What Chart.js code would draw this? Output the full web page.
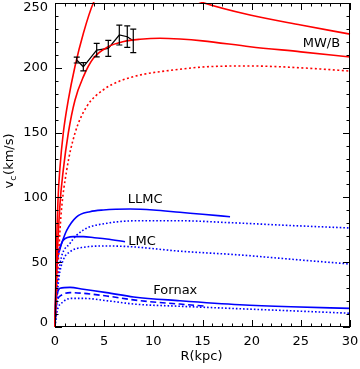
<!DOCTYPE html>
<html>
<head>
<meta charset="utf-8">
<script src="https://cdn.jsdelivr.net/npm/chart.js@4.4.0/dist/chart.umd.min.js"></script>
<style>
  html, body { margin: 0; padding: 0; background: #fff; }
  #wrap { width: 360px; height: 369px; }
</style>
</head>
<body>
<div id="wrap"><canvas id="rc" width="360" height="369"></canvas></div>
<script>
const xTicks = [0, 5, 10, 15, 20, 25, 30];
const yTicks = [0, 50, 100, 150, 200, 250];

// MW/B curves (R in kpc, v in km/s)
const mwTopR = [0, 0.1, 0.3, 0.51, 0.84, 1.35, 2.03, 2.88, 3.9, 5, 7, 10, 14.75, 19.83, 25, 30];
const mwTopV = [0, 45, 97, 123.5, 149.5, 175, 201, 226.5, 250, 262, 268, 265, 251, 240.7, 233, 226];
const mwMidR = [0, 0.15, 0.5, 0.84, 1.35, 2.03, 2.88, 3.9, 5.42, 7, 8.64, 10.68, 12.71, 15, 19.83, 25, 30];
const mwMidV = [0, 40, 94, 121, 149.5, 175, 193, 207.3, 216.3, 220.3, 222, 222.8, 222.2, 220.8, 216.3, 212.3, 208.3];
const mwDotR = [0, 0.25, 0.6, 1.19, 2.03, 3.22, 4.91, 6.5, 8.64, 12.03, 15.43, 19.83, 25, 30];
const mwDotV = [0, 38, 85, 121, 149.5, 170, 183, 189.5, 194.4, 198.3, 200.8, 201.4, 200, 197.5];

// LLMC
const llmcR = [0, 0.17, 0.51, 1.19, 2.2, 3.56, 4.91, 7.63, 10, 12.7, 15, 17.8];
const llmcV = [0, 49, 61.3, 74.5, 85, 89, 90.3, 91, 90.3, 88.5, 87, 85.1];
const llmcDotR = [0, 0.2, 0.51, 1.53, 2.88, 5.26, 8.64, 12.7, 17.8, 24, 30];
const llmcDotV = [0, 28, 49, 64.6, 74.8, 80, 82, 82, 80.5, 78.3, 76.4];

// LMC
const lmcR = [0, 0.17, 0.5, 0.84, 1.86, 2.88, 4, 5.26, 7.12];
const lmcV = [0, 44, 60, 67, 69.7, 69.7, 68.9, 67.9, 65.8];
const lmcDotR = [0, 0.2, 0.4, 0.84, 1.53, 2.88, 5.26, 7.63, 12.7, 18.8, 24, 30];
const lmcDotV = [0, 22, 38, 51.7, 58.1, 61.5, 62.5, 62, 58.5, 55.6, 52.3, 48.6];

// Fornax
const fnxR = [0, 0.08, 0.25, 0.51, 1.53, 2.88, 5.26, 8, 12.7, 18.8, 24, 30];
const fnxV = [0, 18, 26, 29.9, 30.6, 29.1, 26.5, 23.2, 20.3, 17.2, 15.6, 14.4];
const fnxDashR = [0, 0.17, 0.68, 1.53, 2.88, 5.26, 8.64, 12.7, 15.4];
const fnxDashV = [0, 18.3, 24.7, 26.5, 26, 23.9, 20.3, 17.7, 16];
const fnxDotR = [0, 0.17, 0.84, 1.86, 2.88, 5.26, 8.2, 12.7, 17.8, 24, 30];
const fnxDotV = [0, 10.6, 19.5, 22.1, 22.1, 20.3, 17.6, 16, 14.4, 12.5, 10.6];

// observed points with errors
const obsR = [2.21, 2.88, 4.24, 5.42, 6.54, 7.35, 7.96];
const obsV = [206, 200.8, 213.7, 215, 225.3, 224, 220.8];
const obsErr = [2.3, 3.2, 5.2, 6.2, 7.7, 8.3, 9.1];

const curveLabels = [
  { text: "MW/B", r: 29.0, v: 218.5, align: "right" },
  { text: "LLMC", r: 7.4, v: 98, align: "left" },
  { text: "LMC", r: 7.45, v: 65.8, align: "left" },
  { text: "Fornax", r: 10.0, v: 27.8, align: "left" }
];

const RED = "#ff0000";
const BLUE = "#0000ff";
const FONT = "13px 'DejaVu Sans'";

const pts = (rs, vs) => rs.map((r, i) => ({ x: r, y: vs[i] }));

function curve(rs, vs, color, dash) {
  return {
    data: pts(rs, vs),
    borderColor: color,
    borderWidth: 1.6,
    borderDash: dash || [],
    pointRadius: 0,
    cubicInterpolationMode: "monotone",
    fill: false,
    clip: 1
  };
}

const axesPlugin = {
  id: "axes",
  afterDatasetsDraw(chart) {
    const { ctx, scales: { x, y } } = chart;
    ctx.save();
    ctx.strokeStyle = "#000";
    ctx.lineWidth = 1.2;
    obsR.forEach((r, i) => {
      const px = x.getPixelForValue(r);
      const top = y.getPixelForValue(obsV[i] + obsErr[i]);
      const bot = y.getPixelForValue(obsV[i] - obsErr[i]);
      ctx.beginPath();
      ctx.moveTo(px, top); ctx.lineTo(px, bot);
      ctx.moveTo(px - 3, top); ctx.lineTo(px + 3, top);
      ctx.moveTo(px - 3, bot); ctx.lineTo(px + 3, bot);
      ctx.stroke();
    });
    ctx.restore();
  },
  afterDraw(chart) {
    const { ctx, chartArea: a, scales: { x, y } } = chart;
    ctx.save();
    ctx.strokeStyle = "#000";
    ctx.lineWidth = 1;
    ctx.strokeRect(a.left + 0.5, a.top + 0.5, a.right - a.left - 1, a.bottom - a.top - 1);

    ctx.beginPath();
    for (let r = 0; r <= 30; r++) {
      const px = Math.round(x.getPixelForValue(r)) + 0.5;
      const len = r % 5 === 0 ? 7 : 3.5;
      ctx.moveTo(px, a.bottom); ctx.lineTo(px, a.bottom - len);
      ctx.moveTo(px, a.top); ctx.lineTo(px, a.top + len);
    }
    for (let v = 0; v <= 250; v += 10) {
      const py = Math.round(y.getPixelForValue(v)) + 0.5;
      const len = v % 50 === 0 ? 7 : 3.5;
      ctx.moveTo(a.left, py); ctx.lineTo(a.left + len, py);
      ctx.moveTo(a.right, py); ctx.lineTo(a.right - len, py);
    }
    ctx.stroke();

    ctx.fillStyle = "#000";
    ctx.font = FONT;
    ctx.textBaseline = "middle";
    ctx.textAlign = "center";
    xTicks.forEach((t) => ctx.fillText(String(t), x.getPixelForValue(t), a.bottom + 15));
    ctx.textAlign = "right";
    yTicks.forEach((t) => {
      const py = Math.min(Math.max(y.getPixelForValue(t), a.top + 5), a.bottom - 4.5);
      ctx.fillText(String(t), a.left - 7, py);
    });

    ctx.textAlign = "center";
    ctx.fillText("R(kpc)", (a.left + a.right) / 2 - 1, a.bottom + 30);

    curveLabels.forEach((l) => {
      ctx.textAlign = l.align;
      ctx.fillText(l.text, x.getPixelForValue(l.r), y.getPixelForValue(l.v));
    });

    // rotated y title with subscript c
    ctx.translate(10, 161);
    ctx.rotate(-Math.PI / 2);
    const wv = ctx.measureText("v").width;
    ctx.font = "9px 'DejaVu Sans'";
    const wc = ctx.measureText("c").width;
    ctx.font = FONT;
    const wr = ctx.measureText("(km/s)").width;
    let sx = -(wv + wc + 1 + wr) / 2;
    ctx.textAlign = "left";
    ctx.fillText("v", sx, 0);
    sx += wv;
    ctx.font = "9px 'DejaVu Sans'";
    ctx.fillText("c", sx, 4);
    sx += wc + 1;
    ctx.font = FONT;
    ctx.fillText("(km/s)", sx, 0);
    ctx.restore();
  }
};

new Chart(document.getElementById("rc"), {
  type: "line",
  data: {
    datasets: [
      curve(mwTopR, mwTopV, RED),
      curve(mwMidR, mwMidV, RED),
      curve(mwDotR, mwDotV, RED, [2, 2.5]),
      curve(llmcR, llmcV, BLUE),
      curve(llmcDotR, llmcDotV, BLUE, [1.6, 2]),
      curve(lmcR, lmcV, BLUE),
      curve(lmcDotR, lmcDotV, BLUE, [1.6, 2]),
      curve(fnxR, fnxV, BLUE),
      curve(fnxDashR, fnxDashV, BLUE, [6, 3.5]),
      curve(fnxDotR, fnxDotV, BLUE, [1.6, 2]),
      {
        data: pts(obsR, obsV),
        borderColor: "#000",
        borderWidth: 1.2,
        pointRadius: 0,
        tension: 0,
        fill: false
      }
    ]
  },
  options: {
    responsive: false,
    animation: false,
    devicePixelRatio: 1,
    layout: { padding: { left: 55, right: 10, top: 3, bottom: 42 } },
    plugins: { legend: { display: false }, tooltip: { enabled: false } },
    scales: {
      x: { type: "linear", min: 0, max: 30, display: false },
      y: { type: "linear", min: 0, max: 250, display: false }
    }
  },
  plugins: [axesPlugin]
});
</script>
</body>
</html>
